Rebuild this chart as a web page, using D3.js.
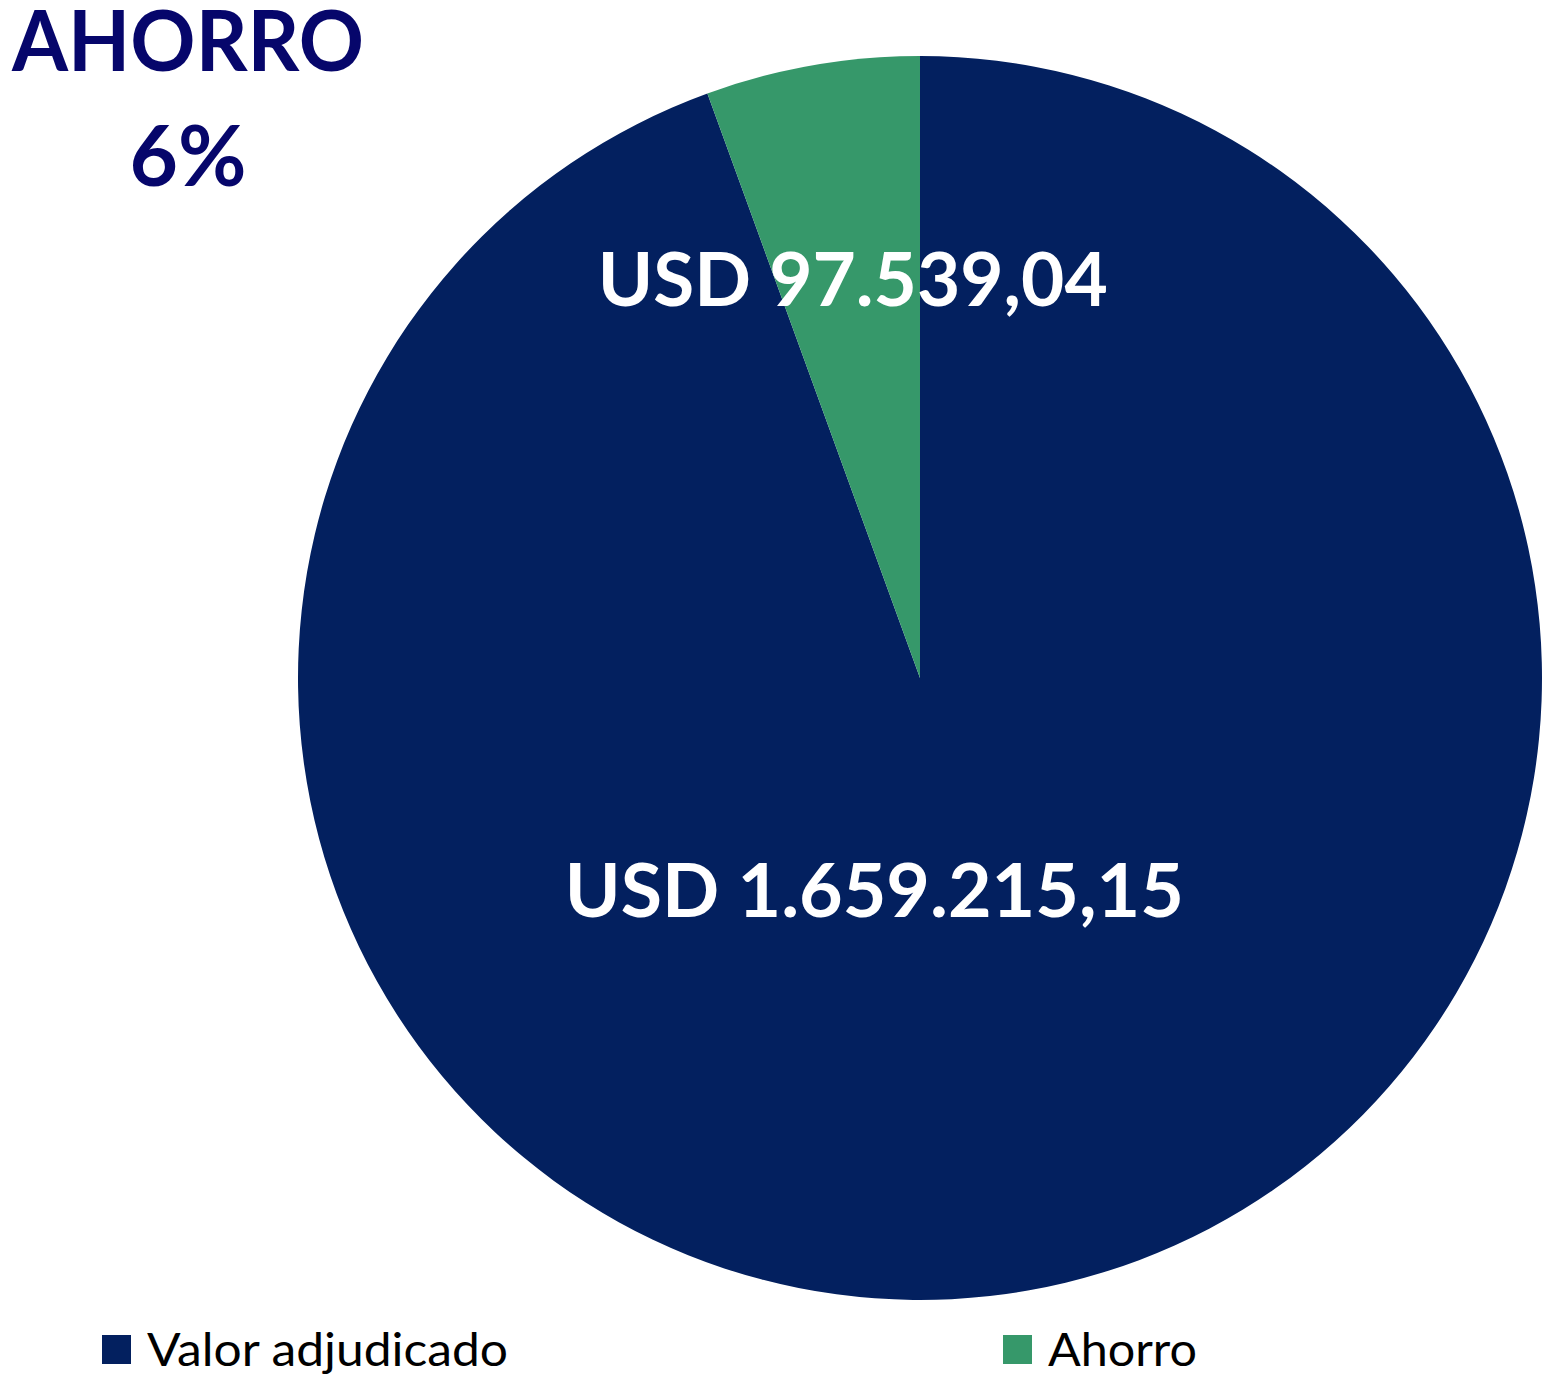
<!DOCTYPE html>
<html>
<head>
<meta charset="utf-8">
<script src="https://cdn.jsdelivr.net/npm/d3@7"></script>
<style>
    body { margin: 0; background: #fff; }
    svg text { font-family: Lato, "Open Sans", sans-serif; }
</style>
</head>
<body>
<div id="chart"></div>
<script>
/* ----------------------------------------------------- Data ------------------------------------------------------------------------- */

const categories = ["Valor adjudicado", "Ahorro"];
const values = [1659215.15, 97539.04];
const valueLabels = ["USD 1.659.215,15", "USD 97.539,04"];
const colors = ["#03205F", "#36986A"];
const titleLines = ["AHORRO", "6%"];

/* ----------------------------------------------------- Pie -------------------------------------------------------------------------- */

const width = 1549, height = 1376;
const cx = 920, cy = 678, radius = 622;

const svg = d3.select("#chart").append("svg")
    .attr("width", width)
    .attr("height", height);

const pie = d3.pie().sort(null).value(d => d);
const arcs = pie(values);

const arc = d3.arc().innerRadius(0).outerRadius(radius);

const g = svg.append("g")
    .attr("transform", `translate(${cx}, ${cy})`);

g.selectAll("path")
    .data(arcs)
    .enter()
    .append("path")
    .attr("d", arc)
    .attr("fill", (d, i) => colors[i]);

const labelRadius = [215, 405];
const labelNudge = [-83, 3];
const labelWidth = [619, 510];

g.selectAll(".label")
    .data(arcs)
    .enter()
    .append("text")
    .attr("class", "label")
    .attr("x", (d, i) => d3.arc().innerRadius(labelRadius[i]).outerRadius(labelRadius[i]).centroid(d)[0] + labelNudge[i])
    .attr("y", (d, i) => d3.arc().innerRadius(labelRadius[i]).outerRadius(labelRadius[i]).centroid(d)[1])
    .attr("dy", "0.36em")
    .attr("text-anchor", "middle")
    .attr("fill", "#fff")
    .style("font-weight", "bold")
    .style("font-size", "75px")
    .attr("textLength", (d, i) => labelWidth[i])
    .attr("lengthAdjust", "spacingAndGlyphs")
    .text((d, i) => valueLabels[i]);

/* ----------------------------------------------------- Title ------------------------------------------------------------------------ */

svg.append("text")
    .attr("x", 188)
    .attr("y", 71)
    .attr("text-anchor", "middle")
    .attr("fill", "#06066B")
    .style("font-weight", "bold")
    .style("font-size", "85px")
    .attr("textLength", 352)
    .attr("lengthAdjust", "spacingAndGlyphs")
    .text(titleLines[0]);

svg.append("text")
    .attr("x", 188)
    .attr("y", 186)
    .attr("text-anchor", "middle")
    .attr("fill", "#06066B")
    .style("font-weight", "bold")
    .style("font-size", "85px")
    .attr("textLength", 117)
    .attr("lengthAdjust", "spacingAndGlyphs")
    .text(titleLines[1]);

/* ----------------------------------------------------- Legend ----------------------------------------------------------------------- */

const legendX = [102, 1003];
const legendTextWidth = [361, 149];

const legend = svg.selectAll(".legend")
    .data(categories)
    .enter()
    .append("g")
    .attr("class", "legend")
    .attr("transform", (d, i) => `translate(${legendX[i]}, 1335)`);

legend.append("rect")
    .attr("width", 29)
    .attr("height", 29)
    .attr("fill", (d, i) => colors[i]);

legend.append("text")
    .attr("x", 45)
    .attr("y", 31)
    .attr("fill", "#000")
    .style("font-size", "46px")
    .attr("textLength", (d, i) => legendTextWidth[i])
    .attr("lengthAdjust", "spacingAndGlyphs")
    .text(d => d);
</script>
</body>
</html>
